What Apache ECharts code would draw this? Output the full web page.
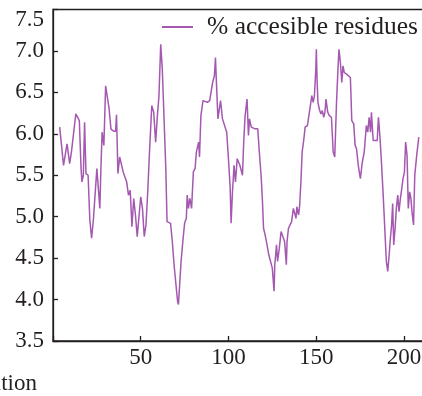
<!DOCTYPE html>
<html>
<head>
<meta charset="utf-8">
<script src="https://cdn.jsdelivr.net/npm/echarts@6/dist/echarts.min.js"></script>
<style>
html,body{margin:0;padding:0;background:#fff;}
#chart{width:422px;height:396px;}
</style>
</head>
<body>
<div id="chart"></div>
<script>
// Residue positions (x)
const positions = [
  3.8, 6, 8, 9.5, 10.5, 13, 15, 16, 16.5, 17.3, 18, 18.8, 20, 21, 22, 23, 24, 25, 26, 26.7,
  27.3, 28, 29, 30, 31, 32, 33, 34.5, 35.7, 36.2, 37, 38, 39, 40, 42, 43, 44, 45, 46, 47,
  48, 49, 50, 51, 52, 53, 54, 55, 56.3, 57.4, 58.5, 59.5, 60.4, 61.4, 62.3, 63.3, 64.3, 65, 66, 67,
  68, 69, 70, 71, 71.5, 72.3, 73, 74, 75, 76, 76.5, 77.2, 78, 79, 80, 81, 81.7, 83, 83.5, 84.3,
  85.5, 86.6, 88, 89.3, 91, 92, 92.6, 93, 94, 95, 95.5, 96.6, 97.6, 99, 100, 101, 101.5, 102.3, 103.2, 104,
  105, 106.5, 108, 108.7, 109.5, 110.6, 111.4, 112, 113, 114, 115.2, 116.7, 117.6, 118.6, 119.4, 120, 120.9, 122, 123, 124,
  125, 126, 126.4, 127.4, 128, 129, 130, 131, 132, 133, 133.4, 134.2, 135.3, 136, 137, 137.6, 138.5, 139, 140, 140.6,
  141.4, 142, 143, 143.7, 145, 146, 146.7, 147.5, 148.3, 149, 149.8, 150.1, 150.5, 151, 152, 152.7, 153.5, 154.3, 155, 155.6,
  156.6, 157.5, 158.7, 159.7, 160.6, 161.6, 162.5, 163, 163.8, 164.6, 165.3, 166, 167.3, 168.4, 169.5, 170.3, 171.4, 172.2, 173, 174,
  175.2, 176.3, 177.4, 178.6, 179.4, 180.2, 181, 181.5, 182.5, 183.6, 184.8, 185.5, 186.3, 187.2, 188.2, 189.1, 190, 190.8, 191.6, 192.3,
  193, 193.6, 194.2, 195, 195.7, 196.5, 197.2, 198, 198.8, 199.5, 200.3, 201, 201.8, 202.5, 203.3, 204, 204.8, 205.5, 206.2, 207.3,
  208.5
];
// % accessible residues (y)
const accessible = [
  6.08, 5.62, 5.88, 5.64, 5.78, 6.24, 6.16, 5.58, 5.42, 5.5, 6.14, 5.52, 5.5, 4.96, 4.74, 4.96, 4.98, 5.58, 5.6, 5.1,
  5.58, 6.02, 5.86, 6.58, 6.59, 6.3, 6.06, 6.03, 6.03, 6.23, 5.52, 5.72, 5.7, 5.54, 5.42, 5.26, 5.32, 4.88, 5.22, 5.02,
  4.76, 4.76, 5.24, 5.1, 4.76, 4.9, 5.3, 5.78, 6.34, 6.26, 5.9, 6.22, 6.46, 7.08, 6.78, 6.18, 5.58, 4.94, 4.96, 4.92,
  4.7, 4.42, 4.4, 3.98, 3.94, 4.22, 4.46, 4.7, 4.92, 4.98, 5.26, 5.1, 5.22, 5.1, 5.54, 5.58, 5.78, 5.9, 5.72, 6.22,
  6.4, 6.4, 6.38, 6.4, 6.62, 6.7, 6.92, 6.7, 6.18, 6.18, 6.4, 6.18, 6.2, 6.02, 5.7, 5.34, 4.92, 5.3, 5.62, 5.42,
  5.7, 5.62, 5.5, 5.9, 6.22, 6.42, 5.98, 6.18, 6.08, 6.1, 6.06, 6.06, 5.78, 5.5, 5.18, 4.86, 4.78, 4.66, 4.54, 4.54,
  4.38, 4.1, 4.42, 4.66, 4.46, 4.62, 4.82, 4.82, 4.7, 4.42, 4.7, 4.86, 4.88, 4.94, 5.1, 5.12, 4.98, 5.12, 5.02, 5.14,
  5.46, 5.78, 5.94, 6.08, 6.1, 6.12, 6.34, 6.46, 6.38, 6.46, 6.78, 7.02, 6.66, 6.38, 6.28, 6.24, 6.28, 6.2, 6.26, 6.42,
  6.26, 6.22, 6.2, 5.78, 5.72, 6.38, 6.82, 7.02, 6.86, 6.62, 6.82, 6.74, 6.72, 6.7, 6.68, 6.16, 6.12, 5.86, 5.82, 5.62,
  5.46, 5.66, 5.78, 6.1, 6.02, 6.2, 6.02, 6.26, 5.92, 5.92, 5.92, 6.2, 5.98, 5.66, 5.26, 4.86, 4.46, 4.34, 4.54, 4.74,
  4.9, 5.16, 4.66, 4.86, 5.1, 5.26, 5.06, 5.22, 5.34, 5.46, 5.54, 5.9, 5.74, 5.1, 5.3, 5.22, 5.02, 4.9, 5.5, 5.74,
  5.96
];
const xTickLabels = [50, 100, 150, 200];
const seriesName = '% accesible residues';
const xAxisTitle = 'Position';

const FONT = '"Liberation Serif", "DejaVu Serif", serif';
const INK = '#231f20';
const LINE = '#a458b0';

const chart = echarts.init(document.getElementById('chart'), null, {renderer: 'canvas'});
chart.setOption({
  backgroundColor: '#ffffff',
  animation: false,
  grid: {left: 53, top: 9.5, width: 373, height: 331.5, show: true, borderColor: INK, borderWidth: 1.3,
         containLabel: false, outerBoundsMode: 'none'},
  legend: {
    show: true, right: 4, top: 14, padding: 0, icon: 'rect', itemWidth: 31, itemHeight: 2, itemGap: 10,
    textStyle: {fontFamily: FONT, fontSize: 25.5, color: INK, padding: [0, 0, 0, 9]},
    data: [seriesName]
  },
  xAxis: {
    type: 'value', min: 0, max: 212.6, interval: 50,
    axisLine: {show: true, lineStyle: {color: INK, width: 1.3}},
    axisTick: {show: true, inside: true, length: 5, lineStyle: {color: INK, width: 1.3}},
    axisLabel: {
      margin: 5, fontFamily: FONT, fontSize: 23, color: INK,
      formatter: v => (xTickLabels.indexOf(v) >= 0 ? String(v) : '')
    },
    splitLine: {show: false}
  },
  yAxis: {
    type: 'value', min: 3.5, max: 7.5, interval: 0.5,
    axisLine: {show: true, lineStyle: {color: INK, width: 1.3}},
    axisTick: {show: true, inside: true, length: 5, lineStyle: {color: INK, width: 1.3}},
    axisLabel: {
      margin: 9, fontFamily: FONT, fontSize: 23, color: INK,
      formatter: v => (v === 7.5 ? '{t|' + v.toFixed(1) + '}' : v.toFixed(1)),
      rich: {t: {fontFamily: FONT, fontSize: 23, color: INK, padding: [21, 0, 0, 0]}}
    },
    splitLine: {show: false}
  },
  graphic: [{
    type: 'text', right: 385, top: 372,
    style: {text: xAxisTitle, fontFamily: FONT, fontSize: 23, fill: INK}
  }],
  series: [{
    name: seriesName, type: 'line', symbol: 'none', smooth: false,
    lineStyle: {color: LINE, width: 1.5},
    itemStyle: {color: LINE},
    data: positions.map((p, i) => [p, accessible[i]])
  }]
});
</script>
</body>
</html>
